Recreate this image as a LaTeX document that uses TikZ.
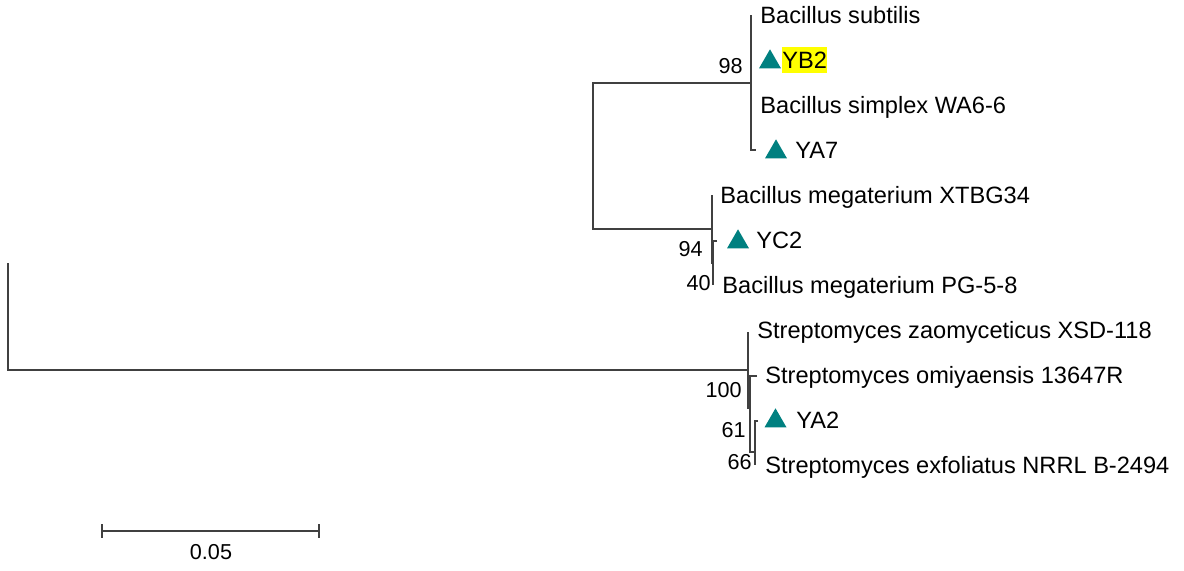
\documentclass[tikz,border=0pt]{standalone}
\usepackage{fontspec}
\setmainfont{Liberation Sans}
\usetikzlibrary{shapes.geometric}
\definecolor{phteal}{RGB}{0,128,128}
\definecolor{phyellow}{RGB}{255,255,0}
\tikzset{
  phbranch/.style={draw=black!75,line width=0.7pt},
  phleaf/.style={anchor=base west,inner sep=0pt,font=\fontsize{11.8}{14}\selectfont},
  phboot/.style={anchor=east,inner sep=0pt,font=\fontsize{10.8}{13}\selectfont},
  phmark/.style={regular polygon,regular polygon sides=3,fill=phteal,draw=none,
    inner sep=0pt,minimum size=12.7pt},
  phhi/.style={phleaf,fill=phyellow,inner ysep=2.5pt},
  phscale/.style={draw=black!75,line width=0.7pt}
}

\begin{document}
\begin{tikzpicture}[x=0.5pt,y=-0.5pt]
  \useasboundingbox (0,0) rectangle (1184,570);
  % tree points
  \coordinate (rt) at (8,263);
  \coordinate (rb) at (8,370);
  \coordinate (nbac) at (593,156);
  \coordinate (nsub) at (751,83);
  \coordinate (nmeg) at (712,229);
  \coordinate (n40) at (713,263);
  \coordinate (nstr) at (748,370);
  \coordinate (n100) at (750,408);
  \coordinate (n61a) at (750,452);
  \coordinate (n61) at (755,452);
  \coordinate (lsub) at (751,15);
  \coordinate (lya7) at (756,150);
  \coordinate (lxt) at (712,195);
  \coordinate (lyc2) at (717,241);
  \coordinate (lpg) at (713,285);
  \coordinate (lzao) at (748,332);
  \coordinate (lomi) at (757,376);
  \coordinate (lya2) at (758,421);
  \coordinate (lexf) at (755,465);

  % Bacillus clade
  \draw[phbranch] (nsub) -| (nbac) |- (nmeg);
  \draw[phbranch] (lsub) |- (lya7);
  \draw[phbranch] (lxt) |- (n40);
  \draw[phbranch] (lyc2) -| (lpg);

  % root and Streptomyces clade
  \draw[phbranch] (rt) -- (rb) -- (nstr);
  \draw[phbranch] (lzao) |- (n100);
  \draw[phbranch] (lomi) -| (n61a) -- (n61);
  \draw[phbranch] (lya2) -| (lexf);

  % leaves
  \node[phleaf] (tsub) at (760,23) {Bacillus subtilis};
  \node[phmark] (myb2) at (770,62) {};
  \node[phhi] (tyb2) at (782,68) {YB2};
  \node[phleaf] (tsim) at (760,113) {Bacillus simplex WA6-6};
  \node[phmark] (mya7) at (776,152) {};
  \node[phleaf] (tya7) at (795,158) {YA7};
  \node[phleaf] (txt) at (720,203) {Bacillus megaterium XTBG34};
  \node[phmark] (myc2) at (738,242) {};
  \node[phleaf] (tyc2) at (756,248) {YC2};
  \node[phleaf] (tpg) at (722,293) {Bacillus megaterium PG-5-8};
  \node[phleaf] (tzao) at (757,338) {Streptomyces zaomyceticus XSD-118};
  \node[phleaf] (tomi) at (765,383) {Streptomyces omiyaensis 13647R};
  \node[phmark] (mya2) at (775.5,421) {};
  \node[phleaf] (tya2) at (796,428) {YA2};
  \node[phleaf] (texf) at (765,473) {Streptomyces exfoliatus NRRL B-2494};

  % bootstrap values
  \node[phboot] (b98) at (743,66) {98};
  \node[phboot] (b94) at (703,249) {94};
  \node[phboot] (b40) at (711,283) {40};
  \node[phboot] (b100) at (742,390) {100};
  \node[phboot] (b61) at (746,430) {61};
  \node[phboot] (b66) at (752,462) {66};

  % scale bar
  \coordinate (sbl) at (102,531);
  \coordinate (sbr) at (319,531);
  \draw[phscale] (sbl) -- (sbr);
  \draw[phscale] ([yshift=3.5pt]sbl) -- ([yshift=-3.5pt]sbl);
  \draw[phscale] ([yshift=3.5pt]sbr) -- ([yshift=-3.5pt]sbr);
  \node[font=\fontsize{10.8}{13}\selectfont,inner sep=0pt] (tsb) at (211,552) {0.05};
\end{tikzpicture}
\end{document}
